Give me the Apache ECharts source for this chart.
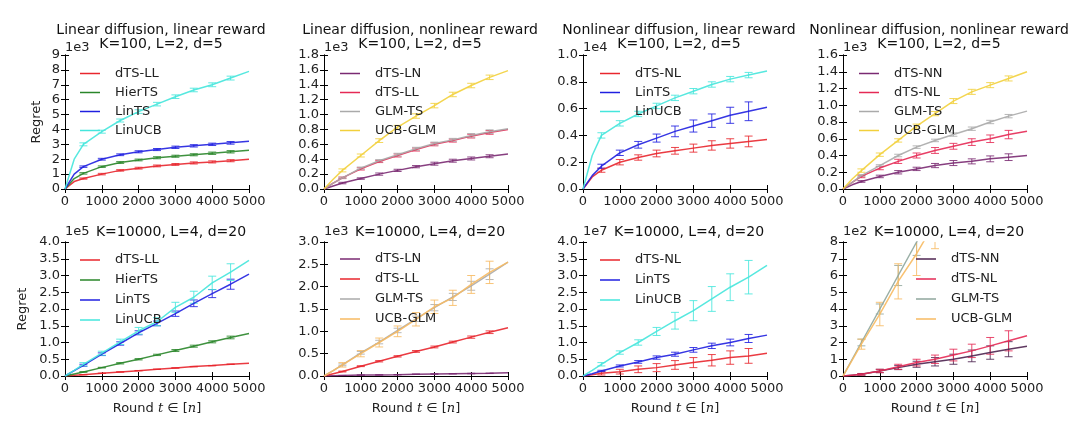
<html>
<head>
<meta charset="utf-8">
<script src="https://cdn.jsdelivr.net/npm/echarts@6.0.0/dist/echarts.min.js"></script>
<style>
  html, body { margin: 0; padding: 0; background: #fff; }
  #main { width: 1080px; height: 423px; }
</style>
</head>
<body>
<div id="main"></div>
<script type="text/javascript">
// rounds where the curves are sampled, and rounds carrying error bars
var rounds    = [0, 250, 500, 1000, 1500, 2000, 2500, 3000, 3500, 4000, 4500, 5000];
var errRounds = [500, 1000, 1500, 2000, 2500, 3000, 3500, 4000, 4500];

// panel 1: linear diffusion, linear reward, K=100 (x1e3)
var p1_dtsll   = [0, 0.5, 0.7, 1.0, 1.25, 1.4, 1.55, 1.65, 1.75, 1.82, 1.9, 2.0];
var p1_hierts  = [0, 0.7, 1.05, 1.5, 1.78, 1.95, 2.1, 2.2, 2.3, 2.4, 2.5, 2.6];
var p1_lints   = [0, 1.0, 1.5, 2.0, 2.3, 2.5, 2.65, 2.8, 2.9, 3.0, 3.1, 3.2];
var p1_linucb  = [0, 2.0, 3.0, 3.85, 4.6, 5.2, 5.7, 6.2, 6.65, 7.0, 7.45, 7.9];
var e1_dtsll   = [0.04, 0.05, 0.05, 0.06, 0.06, 0.06, 0.07, 0.07, 0.07];
var e1_hierts  = [0.05, 0.05, 0.06, 0.06, 0.07, 0.07, 0.07, 0.08, 0.08];
var e1_lints   = [0.05, 0.06, 0.06, 0.07, 0.07, 0.08, 0.08, 0.08, 0.09];
var e1_linucb  = [0.1, 0.1, 0.1, 0.12, 0.12, 0.12, 0.12, 0.13, 0.13];

// panel 2: linear diffusion, nonlinear reward, K=100 (x1e3)
var p2_dtsln   = [0, 0.04, 0.08, 0.14, 0.2, 0.25, 0.3, 0.34, 0.38, 0.41, 0.44, 0.47];
var p2_dtsll   = [0, 0.08, 0.15, 0.27, 0.37, 0.45, 0.53, 0.6, 0.65, 0.71, 0.76, 0.8];
var p2_glmts   = [0, 0.08, 0.15, 0.28, 0.38, 0.46, 0.54, 0.61, 0.66, 0.72, 0.77, 0.81];
var p2_ucbglm  = [0, 0.13, 0.25, 0.45, 0.65, 0.83, 0.98, 1.12, 1.27, 1.39, 1.5, 1.59];
var e2_dtsln   = [0.01, 0.01, 0.015, 0.015, 0.015, 0.02, 0.02, 0.02, 0.02];
var e2_dtsll   = [0.01, 0.015, 0.015, 0.02, 0.02, 0.02, 0.02, 0.025, 0.025];
var e2_glmts   = [0.01, 0.015, 0.015, 0.02, 0.02, 0.02, 0.02, 0.025, 0.025];
var e2_ucbglm  = [0.02, 0.02, 0.025, 0.025, 0.03, 0.03, 0.03, 0.03, 0.03];

// panel 3: nonlinear diffusion, linear reward, K=100 (x1e4)
var p3_dtsnl   = [0, 0.09, 0.14, 0.2, 0.235, 0.265, 0.285, 0.305, 0.325, 0.34, 0.355, 0.37];
var p3_lints   = [0, 0.1, 0.17, 0.27, 0.33, 0.38, 0.43, 0.47, 0.51, 0.55, 0.58, 0.61];
var p3_linucb  = [0, 0.25, 0.4, 0.49, 0.56, 0.62, 0.68, 0.73, 0.78, 0.82, 0.85, 0.88];
var e3_dtsnl   = [0.015, 0.02, 0.02, 0.025, 0.025, 0.03, 0.035, 0.035, 0.04];
var e3_lints   = [0.015, 0.02, 0.025, 0.03, 0.04, 0.045, 0.05, 0.06, 0.07];
var e3_linucb  = [0.02, 0.02, 0.02, 0.02, 0.02, 0.02, 0.02, 0.02, 0.02];

// panel 4: nonlinear diffusion, nonlinear reward, K=100 (x1e3)
var p4_dtsnn   = [0, 0.05, 0.09, 0.15, 0.2, 0.24, 0.28, 0.31, 0.33, 0.36, 0.38, 0.4];
var p4_dtsnl   = [0, 0.08, 0.15, 0.25, 0.33, 0.4, 0.46, 0.51, 0.56, 0.6, 0.65, 0.69];
var p4_glmts   = [0, 0.08, 0.16, 0.28, 0.4, 0.5, 0.58, 0.65, 0.72, 0.8, 0.87, 0.93];
var p4_ucbglm  = [0, 0.12, 0.22, 0.41, 0.58, 0.75, 0.9, 1.05, 1.16, 1.24, 1.32, 1.4];
var e4_dtsnn   = [0.01, 0.015, 0.02, 0.02, 0.025, 0.03, 0.03, 0.035, 0.04];
var e4_dtsnl   = [0.015, 0.02, 0.025, 0.03, 0.035, 0.035, 0.04, 0.045, 0.05];
var e4_glmts   = [0.01, 0.01, 0.015, 0.015, 0.015, 0.02, 0.02, 0.02, 0.02];
var e4_ucbglm  = [0.02, 0.02, 0.02, 0.025, 0.025, 0.03, 0.03, 0.03, 0.03];

// panel 5: linear diffusion, linear reward, K=10000 (x1e5)
var p5_dtsll   = [0, 0.02, 0.04, 0.08, 0.12, 0.16, 0.2, 0.24, 0.28, 0.31, 0.35, 0.38];
var p5_hierts  = [0, 0.06, 0.12, 0.25, 0.38, 0.5, 0.63, 0.76, 0.89, 1.02, 1.15, 1.27];
var p5_lints   = [0, 0.16, 0.32, 0.65, 0.97, 1.29, 1.57, 1.86, 2.17, 2.46, 2.74, 3.04];
var p5_linucb  = [0, 0.17, 0.35, 0.68, 1.02, 1.35, 1.62, 2.05, 2.35, 2.78, 3.1, 3.45];
var e5_dtsll   = [0.005, 0.005, 0.005, 0.005, 0.005, 0.005, 0.006, 0.006, 0.006];
var e5_hierts  = [0.01, 0.01, 0.02, 0.02, 0.02, 0.03, 0.03, 0.03, 0.04];
var e5_lints   = [0.03, 0.04, 0.05, 0.06, 0.07, 0.08, 0.1, 0.12, 0.15];
var e5_linucb  = [0.05, 0.06, 0.08, 0.1, 0.12, 0.15, 0.18, 0.2, 0.25];

// panel 6: linear diffusion, nonlinear reward, K=10000 (x1e3)
var p6_dtsln   = [0, 0.005, 0.01, 0.02, 0.025, 0.03, 0.04, 0.045, 0.05, 0.055, 0.06, 0.07];
var p6_dtsll   = [0, 0.05, 0.1, 0.22, 0.33, 0.44, 0.55, 0.65, 0.76, 0.87, 0.98, 1.08];
var p6_glmts   = [0, 0.12, 0.25, 0.52, 0.76, 1.02, 1.28, 1.53, 1.77, 2.02, 2.28, 2.55];
var p6_ucbglm  = [0, 0.12, 0.25, 0.5, 0.75, 1.0, 1.27, 1.55, 1.75, 2.05, 2.32, 2.55];
var e6_dtsln   = [0.003, 0.003, 0.003, 0.003, 0.004, 0.004, 0.004, 0.005, 0.005];
var e6_dtsll   = [0.01, 0.01, 0.015, 0.015, 0.02, 0.02, 0.02, 0.025, 0.03];
var e6_glmts   = [0.02, 0.03, 0.04, 0.05, 0.06, 0.07, 0.08, 0.1, 0.12];
var e6_ucbglm  = [0.05, 0.07, 0.1, 0.12, 0.15, 0.15, 0.17, 0.2, 0.25];

// panel 7: nonlinear diffusion, linear reward, K=10000 (x1e7)
var p7_dtsnl   = [0, 0.04, 0.08, 0.13, 0.2, 0.25, 0.33, 0.4, 0.47, 0.55, 0.6, 0.68];
var p7_lints   = [0, 0.07, 0.15, 0.3, 0.42, 0.55, 0.65, 0.78, 0.9, 1.0, 1.12, 1.22];
var p7_linucb  = [0, 0.17, 0.35, 0.7, 1.0, 1.33, 1.65, 1.95, 2.3, 2.65, 2.95, 3.3];
var e7_dtsnl   = [0.05, 0.07, 0.1, 0.12, 0.13, 0.15, 0.17, 0.2, 0.22];
var e7_lints   = [0.02, 0.03, 0.04, 0.05, 0.06, 0.07, 0.08, 0.1, 0.12];
var e7_linucb  = [0.05, 0.05, 0.08, 0.12, 0.25, 0.3, 0.37, 0.4, 0.5];

// panel 8: nonlinear diffusion, nonlinear reward, K=10000 (x1e2)
var p8_dtsnn   = [0, 0.05, 0.1, 0.3, 0.5, 0.7, 0.85, 1.0, 1.2, 1.4, 1.6, 1.78];
var p8_dtsnl   = [0, 0.05, 0.1, 0.3, 0.55, 0.8, 1.0, 1.25, 1.5, 1.8, 2.1, 2.4];
var p8_glmts   = [0, 1.0, 2.0, 4.0, 6.0, 8.0, 10.0, 12.0, 14.0, 16.0, 18.0, 20.0];
var p8_ucbglm  = [0, 0.95, 1.9, 3.7, 5.65, 7.3, 9.2, 11.0, 12.8, 14.6, 16.4, 18.2];
var e8_dtsnn   = [0.05, 0.1, 0.12, 0.18, 0.25, 0.3, 0.35, 0.4, 0.45];
var e8_dtsnl   = [0.05, 0.1, 0.15, 0.2, 0.25, 0.35, 0.4, 0.5, 0.6];
var e8_glmts   = [0.2, 0.3, 0.6, 0.8, 1.0, 1.2, 1.4, 1.6, 1.8];
var e8_ucbglm  = [0.3, 0.7, 1.05, 1.3, 1.6, 1.8, 2.0, 2.2, 2.4];

var RED = '#e8262d', GREEN = '#2a862a', BLUE = '#2020e0', CYAN = '#45e6dc';
var PURPLE = '#7a2a72', CRIMSON = '#e52a55', GRAY = '#aaaaaa', GOLD = '#f2d03c';
var ORANGE = '#f7ba62', GRAYGREEN = '#8fa69c', DARKPURPLE = '#4e2450';

var FONT = 'DejaVu Sans';
var GW = 184, GH = 134;

var panels = [
    {left: 65,  top: 55,  title: 'Linear diffusion, linear reward\nK=100, L=2, d=5', exp: '1e3', max: 9, step: 1, dec: 0, lx: 80, ly: 64,
     lines: [['dTS-LL', p1_dtsll, e1_dtsll, RED], ['HierTS', p1_hierts, e1_hierts, GREEN], ['LinTS', p1_lints, e1_lints, BLUE], ['LinUCB', p1_linucb, e1_linucb, CYAN]]},
    {left: 324, top: 55,  title: 'Linear diffusion, nonlinear reward\nK=100, L=2, d=5', exp: '1e3', max: 1.8, step: 0.2, dec: 1, lx: 340, ly: 64,
     lines: [['dTS-LN', p2_dtsln, e2_dtsln, PURPLE], ['dTS-LL', p2_dtsll, e2_dtsll, CRIMSON], ['GLM-TS', p2_glmts, e2_glmts, GRAY], ['UCB-GLM', p2_ucbglm, e2_ucbglm, GOLD]]},
    {left: 583, top: 55,  title: 'Nonlinear diffusion, linear reward\nK=100, L=2, d=5', exp: '1e4', max: 1.0, step: 0.2, dec: 1, lx: 600, ly: 64,
     lines: [['dTS-NL', p3_dtsnl, e3_dtsnl, RED], ['LinTS', p3_lints, e3_lints, BLUE], ['LinUCB', p3_linucb, e3_linucb, CYAN]]},
    {left: 843, top: 55,  title: 'Nonlinear diffusion, nonlinear reward\nK=100, L=2, d=5', exp: '1e3', max: 1.6, step: 0.2, dec: 1, lx: 859, ly: 64,
     lines: [['dTS-NN', p4_dtsnn, e4_dtsnn, PURPLE], ['dTS-NL', p4_dtsnl, e4_dtsnl, CRIMSON], ['GLM-TS', p4_glmts, e4_glmts, GRAY], ['UCB-GLM', p4_ucbglm, e4_ucbglm, GOLD]]},
    {left: 65,  top: 242, title: 'K=10000, L=4, d=20', exp: '1e5', max: 4.0, step: 0.5, dec: 1, lx: 80, ly: 250,
     lines: [['dTS-LL', p5_dtsll, e5_dtsll, RED], ['HierTS', p5_hierts, e5_hierts, GREEN], ['LinTS', p5_lints, e5_lints, BLUE], ['LinUCB', p5_linucb, e5_linucb, CYAN]]},
    {left: 324, top: 242, title: 'K=10000, L=4, d=20', exp: '1e3', max: 3.0, step: 0.5, dec: 1, lx: 340, ly: 249,
     lines: [['dTS-LN', p6_dtsln, e6_dtsln, PURPLE], ['dTS-LL', p6_dtsll, e6_dtsll, RED], ['GLM-TS', p6_glmts, e6_glmts, GRAY], ['UCB-GLM', p6_ucbglm, e6_ucbglm, ORANGE]]},
    {left: 583, top: 242, title: 'K=10000, L=4, d=20', exp: '1e7', max: 4.0, step: 0.5, dec: 1, lx: 600, ly: 250,
     lines: [['dTS-NL', p7_dtsnl, e7_dtsnl, RED], ['LinTS', p7_lints, e7_lints, BLUE], ['LinUCB', p7_linucb, e7_linucb, CYAN]]},
    {left: 843, top: 242, title: 'K=10000, L=4, d=20', exp: '1e2', max: 8, step: 1, dec: 0, lx: 916, ly: 249,
     lines: [['dTS-NN', p8_dtsnn, e8_dtsnn, DARKPURPLE], ['dTS-NL', p8_dtsnl, e8_dtsnl, CRIMSON], ['GLM-TS', p8_glmts, e8_glmts, GRAYGREEN], ['UCB-GLM', p8_ucbglm, e8_ucbglm, ORANGE]]}
];

// vertical error bar with caps, clipped to the plot box
function renderErr(params, api) {
    var x = api.value(0), y = api.value(1), e = api.value(2);
    var lo = api.coord([x, y - e]), hi = api.coord([x, y + e]);
    var cs = params.coordSys;
    var top = cs.y, bot = cs.y + cs.height;
    var y1 = Math.max(top, Math.min(bot, hi[1]));
    var y2 = Math.max(top, Math.min(bot, lo[1]));
    if (y1 === y2) return null;
    var px = lo[0], col = api.visual('color');
    var st = {stroke: col, lineWidth: 1, opacity: 0.85};
    var kids = [{type: 'line', shape: {x1: px, y1: y1, x2: px, y2: y2}, style: st}];
    if (hi[1] >= top && hi[1] <= bot) kids.push({type: 'line', shape: {x1: px - 4, y1: hi[1], x2: px + 4, y2: hi[1]}, style: st});
    if (lo[1] >= top && lo[1] <= bot) kids.push({type: 'line', shape: {x1: px - 4, y1: lo[1], x2: px + 4, y2: lo[1]}, style: st});
    return {type: 'group', children: kids};
}

var labelStyle = {fontFamily: FONT, fontSize: 13, color: '#222'};
var boxLine = {show: true, lineStyle: {color: '#000', width: 1}};
var tickIn = {show: true, inside: true, length: 4, lineStyle: {color: '#000'}};

var option = {
    animation: false,
    backgroundColor: '#fff',
    title: [], grid: [], xAxis: [], yAxis: [], legend: [], series: []
};

panels.forEach(function (p, i) {
    var bottomRow = i >= 4;
    option.grid.push({left: p.left, top: p.top, width: GW, height: GH});
    option.title.push({
        text: p.title,
        left: p.left + GW / 2 + (bottomRow ? 9 : -1),
        top: bottomRow ? p.top - 22 : p.top - 37,
        textAlign: 'center',
        textStyle: {fontFamily: FONT, fontSize: 14, fontWeight: 'normal', color: '#111', lineHeight: 14}
    });
    // bottom + top x axes
    var xb = {
        type: 'value', gridIndex: i, position: 'bottom', min: 0, max: 5000, interval: 1000,
        axisLine: boxLine, axisTick: tickIn, splitLine: {show: false},
        axisLabel: Object.assign({margin: 6, hideOverlap: false, showMinLabel: true, showMaxLabel: true,
            formatter: function (v) { return String(v); }}, labelStyle)
    };
    if (bottomRow) {
        xb.name = '{r|Round }{i|t}{r| \u2208 [}{i|n}{r|]}';
        xb.nameLocation = 'middle';
        xb.nameGap = 26;
        xb.nameTextStyle = {rich: {
            r: {fontFamily: FONT, fontSize: 13, color: '#222'},
            i: {fontFamily: 'DejaVu Serif', fontStyle: 'italic', fontSize: 13, color: '#222'}
        }};
    }
    option.xAxis.push(xb);
    option.xAxis.push({
        type: 'value', gridIndex: i, position: 'top', min: 0, max: 5000, interval: 1000,
        axisLine: boxLine, axisTick: tickIn, axisLabel: {show: false}, splitLine: {show: false}
    });
    // left + right y axes
    option.yAxis.push({
        type: 'value', gridIndex: i, position: 'left', min: 0, max: p.max, interval: p.step,
        axisLine: boxLine, axisTick: tickIn, splitLine: {show: false},
        axisLabel: Object.assign({margin: 5, hideOverlap: false, formatter: function (v) { return v.toFixed(p.dec); }}, labelStyle),
        name: p.exp, nameLocation: 'end', nameGap: bottomRow ? 4 : 1,
        nameTextStyle: {fontFamily: FONT, fontSize: 13, color: '#222', align: 'left', verticalAlign: 'bottom'}
    });
    option.yAxis.push({
        type: 'value', gridIndex: i, position: 'right', min: 0, max: p.max, interval: p.step,
        axisLine: boxLine, axisTick: tickIn, axisLabel: {show: false}, splitLine: {show: false}
    });
    option.legend.push({
        orient: 'vertical', left: p.lx, top: p.ly, icon: 'rect', itemWidth: 20, itemHeight: 1.5, itemGap: 0,
        selectedMode: false, padding: 0,
        textStyle: {fontFamily: FONT, fontSize: 13, color: '#222', lineHeight: bottomRow ? 20 : 19, padding: [0, 0, 0, 10]},
        data: p.lines.map(function (l) { return {name: l[0], itemStyle: {color: l[3]}}; })
    });
    p.lines.forEach(function (l) {
        var vals = l[1], errs = l[2], col = l[3];
        option.series.push({
            type: 'line', name: l[0], xAxisIndex: 2 * i, yAxisIndex: 2 * i,
            data: rounds.map(function (r, k) { return [r, vals[k]]; }),
            symbol: 'none', showSymbol: false, clip: true, silent: true,
            lineStyle: {color: col, width: 1.5, opacity: 0.9}, itemStyle: {color: col}
        });
        option.series.push({
            type: 'custom', xAxisIndex: 2 * i, yAxisIndex: 2 * i, clip: true, silent: true,
            data: errRounds.map(function (r, k) { return [r, vals[rounds.indexOf(r)], errs[k]]; }),
            encode: {x: 0, y: 1}, renderItem: renderErr, itemStyle: {color: col}
        });
    });
});

// "Regret" labels for the first column
[[0, 22], [4, 36]].forEach(function (g) {
    option.yAxis.push({
        type: 'value', gridIndex: g[0], position: 'left', min: 0, max: 1,
        axisLine: {show: false}, axisTick: {show: false}, axisLabel: {show: false}, splitLine: {show: false},
        name: 'Regret', nameLocation: 'middle', nameGap: g[1],
        nameTextStyle: {fontFamily: FONT, fontSize: 13, color: '#222'}
    });
});

var myChart = echarts.init(document.getElementById('main'), null, {renderer: 'canvas'});
myChart.setOption(option);
</script>
</body>
</html>
